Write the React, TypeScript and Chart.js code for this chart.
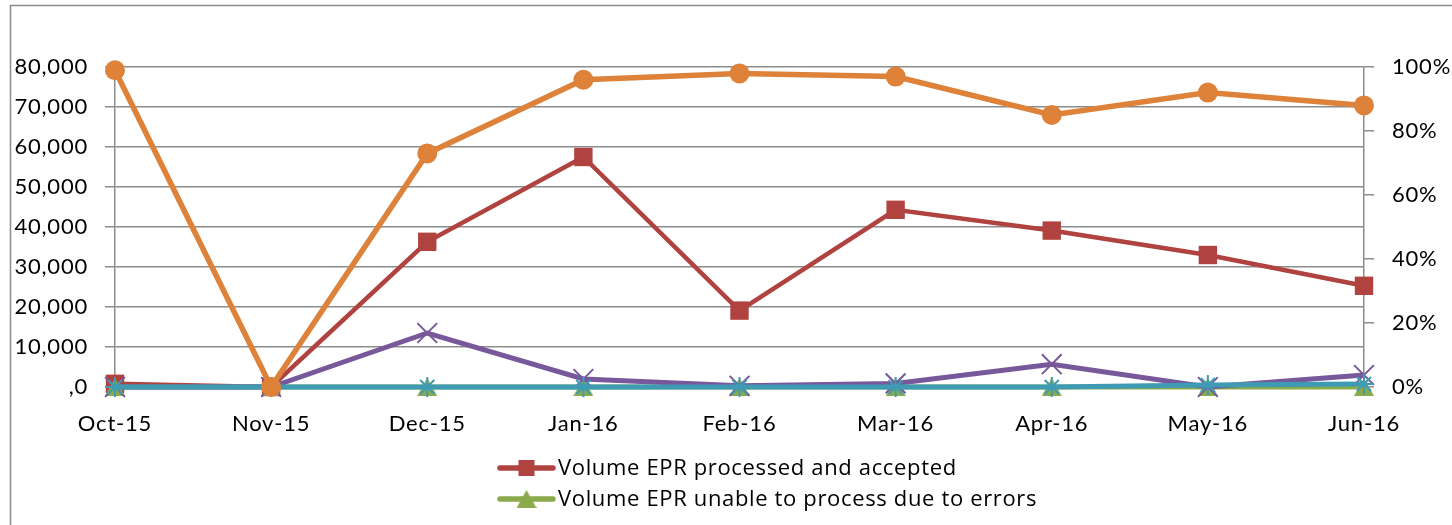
import React, { useEffect, useRef } from 'react';
import { Chart, registerables } from 'chart.js';

Chart.register(...registerables);

// ---- Data ----
const MONTHS = ['Oct-15', 'Nov-15', 'Dec-15', 'Jan-16', 'Feb-16', 'Mar-16', 'Apr-16', 'May-16', 'Jun-16'];
const PROCESSED_ACCEPTED = [800, 0, 36300, 57500, 19100, 44300, 39100, 33000, 25300];
const UNABLE_ERRORS = [0, 0, 0, 0, 0, 0, 0, 0, 0];
const SERIES_PURPLE = [0, 0, 13500, 2000, 300, 900, 5700, 0, 3000];
const SERIES_TEAL = [0, 0, 0, 0, 0, 0, 0, 500, 750];
const PERCENT_ACCEPTED = [0.99, 0, 0.73, 0.96, 0.98, 0.97, 0.85, 0.92, 0.88];

const LEFT_MAX = 80000;
const LEFT_STEP = 10000;
const RIGHT_MAX = 1;
const RIGHT_STEP = 0.2;

const LABELS = [
  'Volume EPR processed and accepted',
  'Volume EPR unable to process due to errors',
  'Volume EPR rejected',
  'Volume EPR pending',
  '% EPR processed and accepted',
];

const RED = '#B0423F';
const GREEN = '#8AAA4B';
const PURPLE = '#77589A';
const TEAL = '#3E9BB3';
const ORANGE = '#DE8139';
const GRID = '#8c8c8c';
const FONT = 'Lato';
const LEGEND_FONT = '"Open Sans"';

function makeTriangle(color: string, w: number, h: number): HTMLCanvasElement {
  const c = document.createElement('canvas');
  c.width = w;
  c.height = h;
  const g = c.getContext('2d')!;
  g.fillStyle = color;
  g.beginPath();
  g.moveTo(w / 2, 0);
  g.lineTo(w, h);
  g.lineTo(0, h);
  g.closePath();
  g.fill();
  return c;
}

const spacingPlugin = {
  id: 'spacing',
  beforeLayout(chart: any) {
    chart.ctx.letterSpacing = '0.8px';
  },
  beforeDraw(chart: any) {
    chart.ctx.letterSpacing = '0.8px';
  },
};

const framePlugin = {
  id: 'frame',
  beforeDraw(chart: any) {
    const ctx = chart.ctx;
    ctx.save();
    ctx.fillStyle = '#ffffff';
    ctx.fillRect(0, 0, chart.width, chart.height);
    ctx.strokeStyle = GRID;
    ctx.lineWidth = 1.5;
    ctx.strokeRect(10.5, 5.5, chart.width + 50, chart.height + 50);
    ctx.restore();
  },
};

const legendPlugin = {
  id: 'verticalLegend',
  afterDraw(chart: any) {
    const ctx = chart.ctx;
    const shown = [0, 1];
    shown.forEach((di, row) => {
      const ds = chart.data.datasets[di];
      const y = 468 + row * 31;
      const x0 = 500;
      const x1 = 553;
      const xm = (x0 + x1) / 2;
      ctx.save();
      ctx.strokeStyle = ds.borderColor;
      ctx.fillStyle = ds.backgroundColor;
      ctx.lineWidth = 5.5;
      ctx.lineCap = 'round';
      ctx.beginPath();
      ctx.moveTo(x0, y);
      ctx.lineTo(x1, y);
      ctx.stroke();
      if (ds.pointStyle === 'rect') {
        ctx.fillRect(xm - 8, y - 8, 16, 16);
      } else if (ds.pointStyle instanceof HTMLCanvasElement) {
        const img = ds.pointStyle;
        ctx.drawImage(img, xm - img.width / 2, y - img.height / 2);
      }
      ctx.fillStyle = '#000000';
      ctx.font = `22px ${LEGEND_FONT}`;
      ctx.letterSpacing = '0.65px';
      ctx.textBaseline = 'middle';
      ctx.textAlign = 'left';
      ctx.fillText(ds.label, 558, y + 1);
      ctx.restore();
    });
  },
};

export default function App() {
  const canvasRef = useRef<HTMLCanvasElement | null>(null);

  useEffect(() => {
    document.body.style.margin = '0';
    const canvas = canvasRef.current;
    if (!canvas) return;
    const tickFont = { family: FONT, size: 22 };
    const triangle = makeTriangle(GREEN, 20, 18);
    const chart = new Chart(canvas, {
      type: 'line',
      data: {
        labels: MONTHS,
        datasets: [
          {
            label: LABELS[0],
            data: PROCESSED_ACCEPTED,
            yAxisID: 'y',
            borderColor: RED,
            backgroundColor: RED,
            borderWidth: 4.5,
            pointStyle: 'rect',
            pointRadius: 13,
            pointBorderWidth: 0,
            clip: false,
            order: 4,
          },
          {
            label: LABELS[1],
            data: UNABLE_ERRORS,
            yAxisID: 'y',
            borderColor: GREEN,
            backgroundColor: GREEN,
            borderWidth: 5,
            pointStyle: triangle,
            pointRadius: 10,
            pointBorderWidth: 0,
            clip: false,
            order: 3,
          },
          {
            label: LABELS[2],
            data: SERIES_PURPLE,
            yAxisID: 'y',
            borderColor: PURPLE,
            backgroundColor: PURPLE,
            borderWidth: 5,
            pointStyle: 'crossRot',
            pointRadius: 14,
            pointBorderWidth: 2,
            clip: false,
            order: 2,
          },
          {
            label: LABELS[3],
            data: SERIES_TEAL,
            yAxisID: 'y',
            borderColor: TEAL,
            backgroundColor: TEAL,
            borderWidth: 5,
            pointStyle: 'star',
            pointRadius: 10,
            pointBorderWidth: 2,
            clip: false,
            order: 1,
          },
          {
            label: LABELS[4],
            data: PERCENT_ACCEPTED,
            yAxisID: 'y1',
            borderColor: ORANGE,
            backgroundColor: ORANGE,
            borderWidth: 5.5,
            pointStyle: 'circle',
            pointRadius: 10,
            pointBorderWidth: 0,
            clip: false,
            order: 0,
          },
        ],
      },
      options: {
        responsive: false,
        animation: false,
        layout: { padding: { top: 67, left: 0, right: 0, bottom: 0 } },
        plugins: {
          legend: { display: false },
          tooltip: { enabled: false },
        },
        elements: { line: { tension: 0 } },
        scales: {
          x: {
            type: 'category',
            offset: false,
            grid: { display: false },
            border: { display: true, color: GRID, width: 1.5 },
            ticks: { color: '#000', font: tickFont, padding: 16, maxRotation: 0, autoSkip: false },
            afterFit(s: any) {
              s.height = 138;
            },
          },
          y: {
            position: 'left',
            min: 0,
            max: LEFT_MAX,
            ticks: {
              stepSize: LEFT_STEP,
              color: '#000',
              font: tickFont,
              padding: 17,
              callback: (v: any) => (Number(v) === 0 ? ',0' : Number(v).toLocaleString('en-US')),
            },
            grid: { color: GRID, lineWidth: 1.5, tickLength: 10, drawTicks: true },
            border: { color: GRID, width: 1.5 },
            afterFit(s: any) {
              s.width = 115;
            },
          },
          y1: {
            position: 'right',
            min: 0,
            max: RIGHT_MAX,
            ticks: {
              stepSize: RIGHT_STEP,
              color: '#000',
              font: tickFont,
              padding: 18,
              callback: (v: any) => `${Math.round(Number(v) * 100)}%`,
            },
            grid: { drawOnChartArea: false, color: GRID, lineWidth: 1.5, tickLength: 10 },
            border: { color: GRID, width: 1.5 },
            afterFit(s: any) {
              s.width = 88;
            },
          },
        },
      },
      plugins: [spacingPlugin, framePlugin, legendPlugin],
    } as any);
    return () => chart.destroy();
  }, []);

  return (
    <div style={{ width: 1452, height: 525 }}>
      <canvas ref={canvasRef} width={1452} height={525} style={{ display: 'block' }} />
    </div>
  );
}
